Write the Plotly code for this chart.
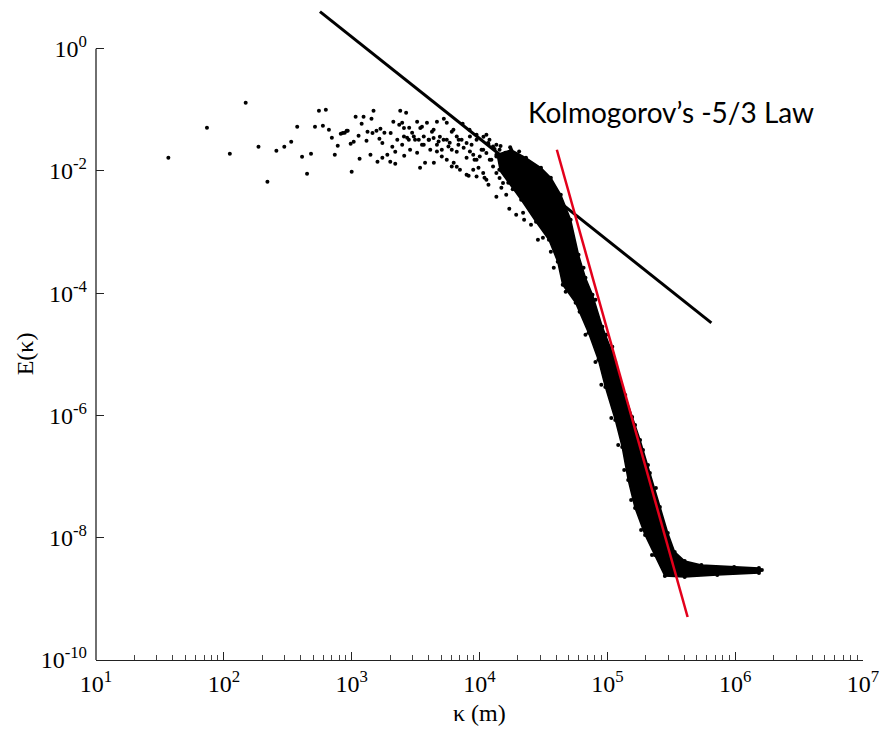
import numpy as np
import plotly.graph_objects as go

# Energy spectrum E(kappa): scattered estimates (log10 kappa, log10 E)
log_k_pts = [
    1.566, 1.868, 2.171, 2.047, 2.271, 2.341, 2.411, 2.473, 2.527, 2.574,
    2.612, 2.651, 2.682, 2.713, 2.744, 2.798, 2.775, 2.822, 2.845, 2.891,
    2.868, 2.915, 2.946, 2.961, 3.031, 3.093, 3.171, 3.078, 3.155, 3.380,
    3.426, 2.969, 3.016, 2.992, 3.054, 3.124, 3.116, 3.194, 3.217, 3.256,
    3.225, 3.062, 3.000, 3.147, 3.202, 3.240, 3.279, 3.302, 3.341, 3.318,
    3.341, 3.395, 3.411, 3.372, 3.326, 3.395, 3.450, 3.512, 3.473, 3.550,
    3.589, 3.457, 3.512, 3.535, 3.574, 3.643, 3.667, 3.721, 3.744, 3.628,
    3.690, 3.767, 3.822, 3.876, 3.798, 3.822, 3.915, 4.039, 4.070, 3.868,
    3.922, 3.977, 4.031, 4.078, 4.132, 3.705, 3.744, 3.783, 3.837, 3.899,
    3.938, 3.961, 4.016, 3.992, 4.093, 3.667, 3.605, 3.550, 3.496, 3.434,
    4.233, 4.457, 4.496, 4.558, 4.543, 4.209, 4.171, 4.364, 4.287, 4.403,
    5.318, 5.380, 5.039,
    3.409, 3.486, 3.525, 3.564, 3.602, 3.641, 3.680, 3.719, 3.757, 3.783,
    3.835, 3.860, 3.899, 3.925, 3.951, 3.977, 4.002, 4.029, 4.054, 4.080,
    4.106, 4.132, 4.157, 4.184, 3.564, 3.615, 3.667, 3.705, 3.744, 3.783,
    3.847, 3.899, 3.951, 3.977, 4.029, 2.930, 3.163, 3.240, 3.409, 3.447,
    3.357, 3.305, 3.537, 3.641, 3.796, 3.822, 3.925, 3.977, 4.067, 4.106,
    4.157, 4.132, 4.184, 4.184,
    4.054, 4.264, 4.287, 4.419, 4.496, 4.364, 4.054, 4.132, 4.341, 4.349,
    4.581, 4.674, 4.783, 4.829, 4.907, 4.953, 5.031, 5.085, 5.132, 5.186,
    5.264, 5.349,
    4.814, 4.907, 4.992, 5.062, 5.140, 5.217, 5.279,
    4.070, 4.118, 4.165, 4.202, 4.240, 4.275, 4.310, 4.225, 4.190, 4.260,
]
log_E_pts = [
    -1.784, -1.293, -0.884, -1.718, -1.604, -2.177, -1.669, -1.604, -1.522, -1.277,
    -1.768, -2.046, -1.718, -1.277, -1.015, -0.998, -1.260, -1.326, -1.457, -1.588,
    -1.735, -1.391, -1.375, -1.342, -1.113, -1.113, -1.015, -1.227, -1.146, -1.015,
    -1.047, -1.342, -1.522, -1.555, -1.424, -1.358, -1.506, -1.342, -1.473, -1.375,
    -1.309, -1.800, -2.013, -1.735, -1.849, -1.784, -1.735, -1.849, -1.882, -1.604,
    -1.686, -1.571, -1.751, -1.244, -1.195, -1.211, -1.293, -1.195, -1.375, -1.277,
    -1.211, -1.653, -1.702, -1.948, -1.866, -1.866, -1.195, -1.146, -1.211, -1.358,
    -1.440, -1.538, -1.686, -1.620, -1.866, -1.931, -2.079, -2.111, -2.226, -1.227,
    -1.326, -1.408, -1.440, -1.489, -1.571, -1.653, -1.489, -1.358, -1.489, -1.784,
    -1.571, -1.817, -1.653, -1.948, -1.817, -1.571, -1.489, -1.571, -1.489, -1.457,
    -2.619, -3.126, -3.093, -3.322, -2.193, -2.390, -2.275, -2.471, -2.717, -2.881,
    -6.808, -7.185, -4.877,
    -1.298, -1.435, -1.489, -1.435, -1.489, -1.462, -1.517, -1.489, -1.599, -1.653,
    -1.571, -1.489, -1.543, -1.681, -1.735, -1.817, -1.763, -1.653, -1.707, -1.817,
    -1.926, -2.034, -2.116, -2.198, -1.571, -1.653, -1.681, -1.763, -1.817, -1.926,
    -1.980, -2.062, -1.980, -2.090, -2.034, -1.380, -1.380, -1.543, -1.435, -1.489,
    -1.489, -1.380, -1.298, -1.326, -1.326, -1.435, -1.435, -1.489, -1.543, -1.599,
    -1.653, -1.763, -1.817, -1.953,
    -1.408, -1.702, -1.866, -2.029, -2.144, -1.948, -2.144, -2.422, -2.684, -2.799,
    -3.584, -3.977, -4.304, -4.681, -5.123, -5.499, -6.039, -6.481, -6.890, -7.381,
    -7.872, -8.282,
    -3.584, -4.108, -4.681, -5.123, -5.663, -6.154, -6.563,
    -1.560, -1.640, -1.590, -1.700, -1.610, -1.720, -1.680, -2.050, -1.880, -2.300,
]

# Outline of the densely sampled band (upper edge, end cap, lower edge back)
log_k_band = [
    4.132, 4.248, 4.364, 4.481, 4.558, 4.636, 4.713, 4.775, 4.829,
    4.884, 4.961, 5.039, 5.116, 5.194, 5.256, 5.333, 5.411, 5.473, 5.527,
    5.605, 5.736, 5.992, 6.186, 6.209,
    6.186, 5.860, 5.605, 5.450, 5.372, 5.295, 5.217, 5.163, 5.116, 5.062,
    4.984, 4.930, 4.853, 4.752, 4.651, 4.612, 4.543, 4.442, 4.326, 4.225,
    4.155,
]
log_E_band = [
    -1.735, -1.653, -1.784, -1.948, -2.111, -2.390, -2.799, -3.372, -3.748,
    -4.026, -4.550, -4.975, -5.532, -6.023, -6.399, -6.939, -7.496, -7.921, -8.232,
    -8.380, -8.445, -8.478, -8.494, -8.527,
    -8.576, -8.609, -8.642, -8.625, -8.282, -7.954, -7.512, -7.054, -6.514, -6.072,
    -5.532, -5.090, -4.648, -4.157, -3.863, -3.486, -3.126, -2.831, -2.471, -2.193,
    -1.980,
]

# Reference power-law lines (log10 end points)
kolmogorov_log_k = [2.752, 5.814]
kolmogorov_log_E = [0.606, -4.485]
steep_log_k = [4.605, 5.628]
steep_log_E = [-1.653, -9.296]

x_tick_exp = [1, 2, 3, 4, 5, 6, 7]
y_tick_exp = [0, -2, -4, -6, -8, -10]

x_range = [1, 7]
y_range = [-10, 0.65]

def pw(v):
    return np.power(10.0, np.asarray(v, dtype=float))

serif = "Liberation Serif"

# minor ticks at 2..9 within each decade
minor_vals = [d * 10.0 ** e for e in range(1, 7) for d in range(2, 10)]

fig = go.Figure()

fig.add_trace(go.Scatter(
    x=pw(log_k_band), y=pw(log_E_band), mode="lines+markers",
    fill="toself", fillcolor="black",
    line=dict(color="black", width=1.5),
    marker=dict(color="black", size=4),
    hoverinfo="skip", showlegend=False,
))
fig.add_trace(go.Scatter(
    x=pw(log_k_pts), y=pw(log_E_pts), mode="markers",
    marker=dict(color="black", size=4),
    showlegend=False,
))
fig.add_trace(go.Scatter(
    x=pw(kolmogorov_log_k), y=pw(kolmogorov_log_E), mode="lines",
    line=dict(color="black", width=3), showlegend=False,
))
fig.add_trace(go.Scatter(
    x=pw(steep_log_k), y=pw(steep_log_E), mode="lines",
    line=dict(color="#e3001b", width=2.5), showlegend=False,
))

fig.update_xaxes(
    type="log", range=x_range,
    tickvals=pw(x_tick_exp),
    ticktext=[f"10<sup>{e}</sup>" for e in x_tick_exp],
    ticks="inside", ticklen=8, tickwidth=1, tickcolor="#222",
    minor=dict(tickvals=minor_vals, ticks="inside", ticklen=5, tickwidth=1,
               tickcolor="#444", showgrid=False),
    showline=True, linecolor="#222", linewidth=1.3,
    showgrid=False, zeroline=False,
    tickfont=dict(family=serif, size=24, color="black"),
    ticklabelstandoff=2,
)
fig.update_yaxes(
    type="log", range=y_range,
    tickvals=pw(y_tick_exp),
    ticktext=[f"10<sup>{e}</sup>" for e in y_tick_exp],
    ticks="inside", ticklen=8, tickwidth=1, tickcolor="#222",
    showline=False, showgrid=False, zeroline=False,
    tickfont=dict(family=serif, size=24, color="black"),
    ticklabelstandoff=8,
)

# Left axis line only spans the labelled decades 10^-10 .. 10^0
top_frac = (0 - y_range[0]) / (y_range[1] - y_range[0])
fig.add_shape(type="line", xref="paper", yref="paper",
              x0=0, x1=0, y0=0, y1=top_frac,
              line=dict(color="#222", width=1.3))

# Axis titles
fig.add_annotation(
    text="κ (m)", xref="paper", yref="paper", x=0.5, y=0,
    xanchor="center", yanchor="top", yshift=-38,
    showarrow=False, font=dict(family=serif, size=24, color="black"),
)
fig.add_annotation(
    text="E(κ)", xref="paper", yref="y", x=0, y=-5,
    xanchor="center", yanchor="middle", xshift=-71, textangle=-90,
    showarrow=False, font=dict(family=serif, size=24, color="black"),
)
fig.add_annotation(
    text="Kolmogorov’s -5/3 Law", xref="x", yref="y", x=5.5, y=-1.03,
    xanchor="center", yanchor="middle", showarrow=False,
    font=dict(family="Lato", size=28, color="black"),
)

fig.update_layout(
    width=888, height=729,
    margin=dict(l=96, r=18, t=9, b=69),
    paper_bgcolor="white", plot_bgcolor="white",
    showlegend=False,
)

fig.write_html("out.html")
